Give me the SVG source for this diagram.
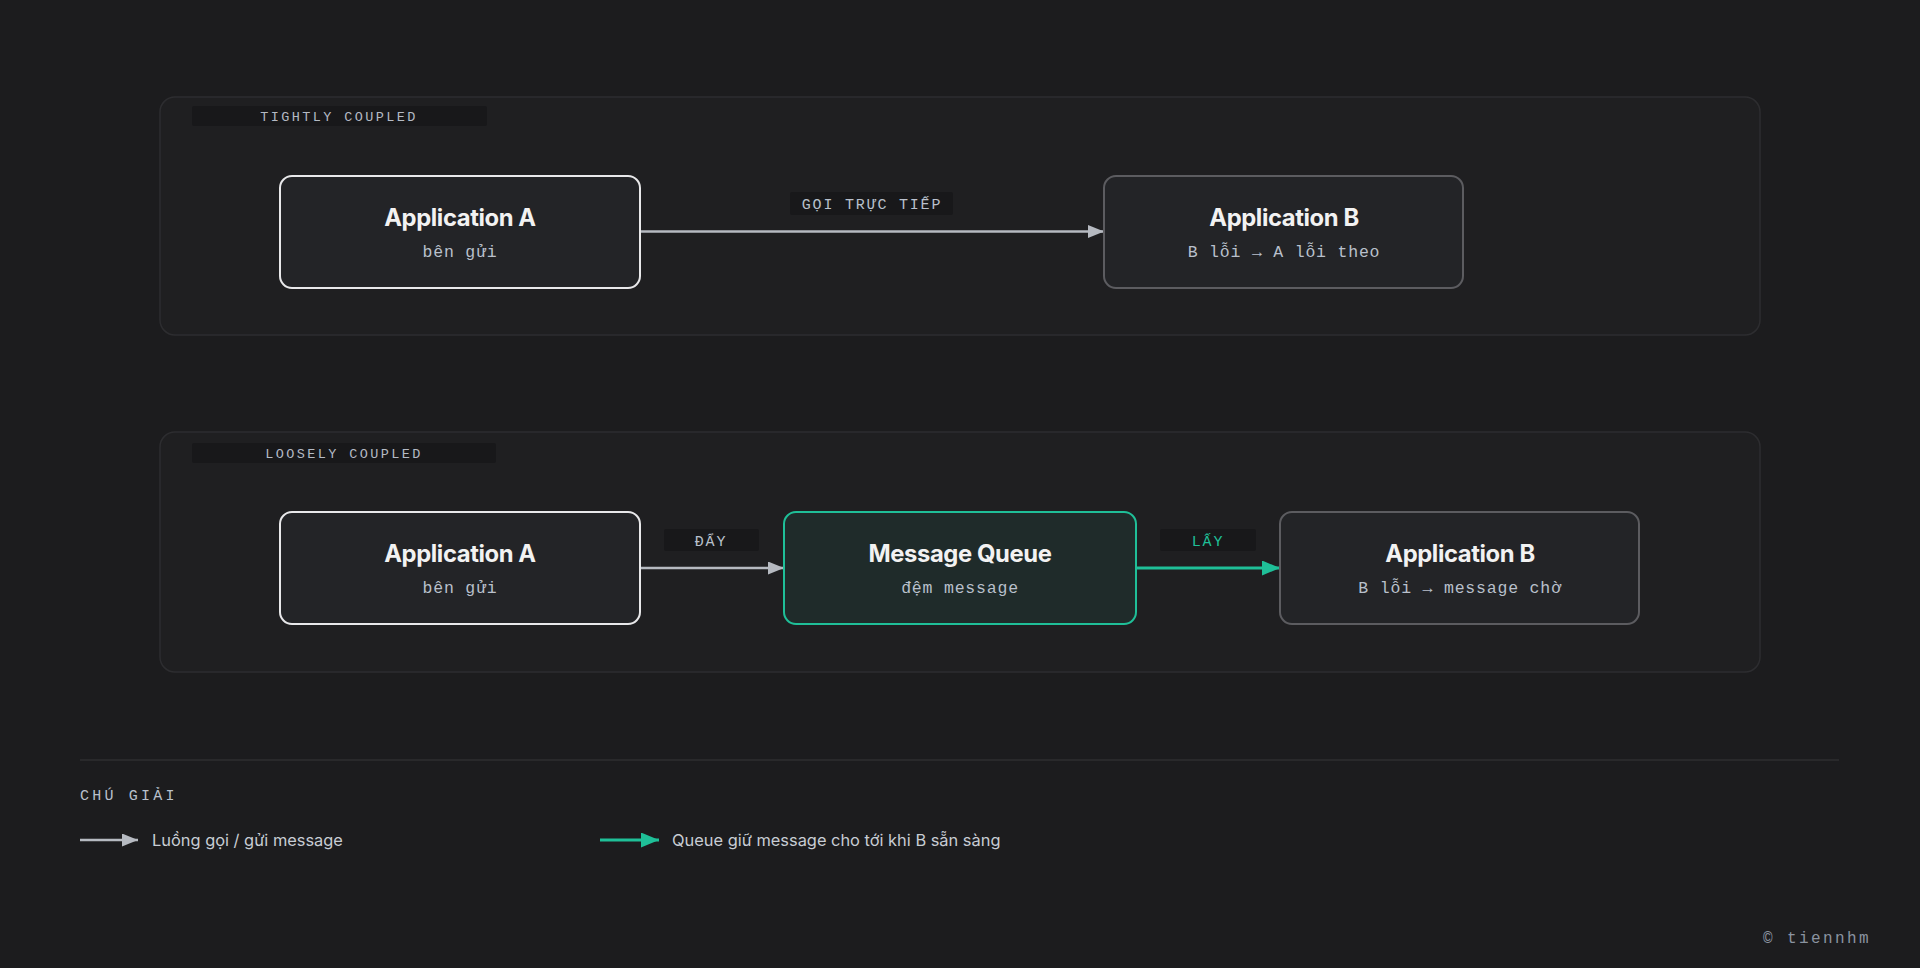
<svg xmlns="http://www.w3.org/2000/svg" width="1920" height="968" viewBox="0 0 1920 968">
<defs>
<marker id="ahGrey" markerUnits="userSpaceOnUse" markerWidth="18" markerHeight="14" refX="16" refY="6.5" orient="auto"><path d="M0,0 L16,6.5 L0,13 Z" fill="#b6bac1"/></marker>
<marker id="ahTeal" markerUnits="userSpaceOnUse" markerWidth="20" markerHeight="16" refX="18" refY="7.5" orient="auto"><path d="M0,0 L18,7.5 L0,15 Z" fill="#1fbf98"/></marker>
</defs>
<style>
.bg{fill:#1c1c1e}
.group{fill:#1f1f21;stroke:#2d2d30;stroke-width:1.5}
.tagbg{fill:#18181a}
.tag{font-family:"Liberation Mono","DejaVu Sans Mono",monospace;font-size:13.5px;letter-spacing:2.4px;fill:#b4bac4;text-anchor:middle}
.node{fill:#232427;stroke-width:2}
.title{font-family:Inter,"Liberation Sans",sans-serif;font-weight:700;font-size:23.8px;letter-spacing:-0.4px;fill:#f2f2f2;text-anchor:middle}
.sub{font-family:"Liberation Mono","DejaVu Sans Mono",monospace;font-size:16.5px;letter-spacing:0.8px;fill:#b9c0cc;text-anchor:middle}
.elabel{font-family:"Liberation Mono","DejaVu Sans Mono",monospace;font-size:15px;letter-spacing:1.8px;fill:#b9c0cc;text-anchor:middle}
.lblbg{fill:#18181a}
.grey{stroke:#b6bac1;stroke-width:2.5;fill:none}
.teal{stroke:#1fbf98;stroke-width:3;fill:none}
.legend{font-family:Inter,"Liberation Sans",sans-serif;font-size:16.4px;fill:#c8cdd4}
</style>
<rect class="bg" x="0" y="0" width="1920" height="968"/>

<g id="group-tight">
<rect class="group" x="160" y="97" width="1600" height="238" rx="15"/>
<rect class="tagbg" x="192" y="106" width="295" height="20" rx="2"/>
<text class="tag" x="339" y="120.5">TIGHTLY COUPLED</text>
</g>

<g id="group-loose">
<rect class="group" x="160" y="432" width="1600" height="240" rx="15"/>
<rect class="tagbg" x="192" y="443" width="304" height="20" rx="2"/>
<text class="tag" x="344" y="457.5">LOOSELY COUPLED</text>
</g>

<g id="connectors">
<line class="grey" x1="640" y1="231.5" x2="1104" y2="231.5" marker-end="url(#ahGrey)"/>
<rect class="lblbg" x="790" y="192" width="163" height="23" rx="2"/>
<text class="elabel" x="872" y="208.5">GỌI TRỰC TIẾP</text>

<line class="grey" x1="640" y1="568" x2="784" y2="568" marker-end="url(#ahGrey)"/>
<rect class="lblbg" x="664" y="529" width="95" height="22" rx="2"/>
<text class="elabel" x="711" y="545.5">ĐẨY</text>

<line class="teal" x1="1136" y1="568" x2="1280" y2="568" marker-end="url(#ahTeal)"/>
<rect class="lblbg" x="1160" y="529" width="96" height="22" rx="2"/>
<text class="elabel" x="1208" y="545.5" style="fill:#1fbf98">LẤY</text>
</g>

<g id="node-app-a-1">
<rect class="node" x="280" y="176" width="360" height="112" rx="12" stroke="#e8e8ea"/>
<text class="title" x="460" y="226">Application A</text>
<text class="sub" x="460" y="257">bên gửi</text>
</g>

<g id="node-app-b-1">
<rect class="node" x="1104" y="176" width="359" height="112" rx="12" stroke="#5c5c60"/>
<text class="title" x="1284" y="226">Application B</text>
<text class="sub" x="1284" y="257">B lỗi → A lỗi theo</text>
</g>

<g id="node-app-a-2">
<rect class="node" x="280" y="512" width="360" height="112" rx="12" stroke="#e8e8ea"/>
<text class="title" x="460" y="562">Application A</text>
<text class="sub" x="460" y="593">bên gửi</text>
</g>

<g id="node-queue">
<rect class="node" x="784" y="512" width="352" height="112" rx="12" stroke="#1fbf98" style="fill:#1f2b2a"/>
<text class="title" x="960" y="562">Message Queue</text>
<text class="sub" x="960" y="593">đệm message</text>
</g>

<g id="node-app-b-2">
<rect class="node" x="1280" y="512" width="359" height="112" rx="12" stroke="#5c5c60"/>
<text class="title" x="1460" y="562">Application B</text>
<text class="sub" x="1460" y="593">B lỗi → message chờ</text>
</g>

<g id="legend">
<line x1="80" y1="760" x2="1839" y2="760" stroke="#2e2e31" stroke-width="1.5"/>
<text x="80" y="800" style="font-family:'Liberation Mono','DejaVu Sans Mono',monospace;font-size:15px;letter-spacing:3.2px;fill:#b9c0cc">CHÚ GIẢI</text>
<line class="grey" x1="80" y1="840" x2="138" y2="840" marker-end="url(#ahGrey)"/>
<text class="legend" x="152" y="845.5">Luồng gọi / gửi message</text>
<line class="teal" x1="600" y1="840" x2="659" y2="840" marker-end="url(#ahTeal)"/>
<text class="legend" x="672" y="845.5">Queue giữ message cho tới khi B sẵn sàng</text>
</g>

<text x="1871" y="943" text-anchor="end" style="font-family:'Liberation Mono','DejaVu Sans Mono',monospace;font-size:16px;letter-spacing:2.4px;fill:#8a93a0">© tiennhm</text>
</svg>
